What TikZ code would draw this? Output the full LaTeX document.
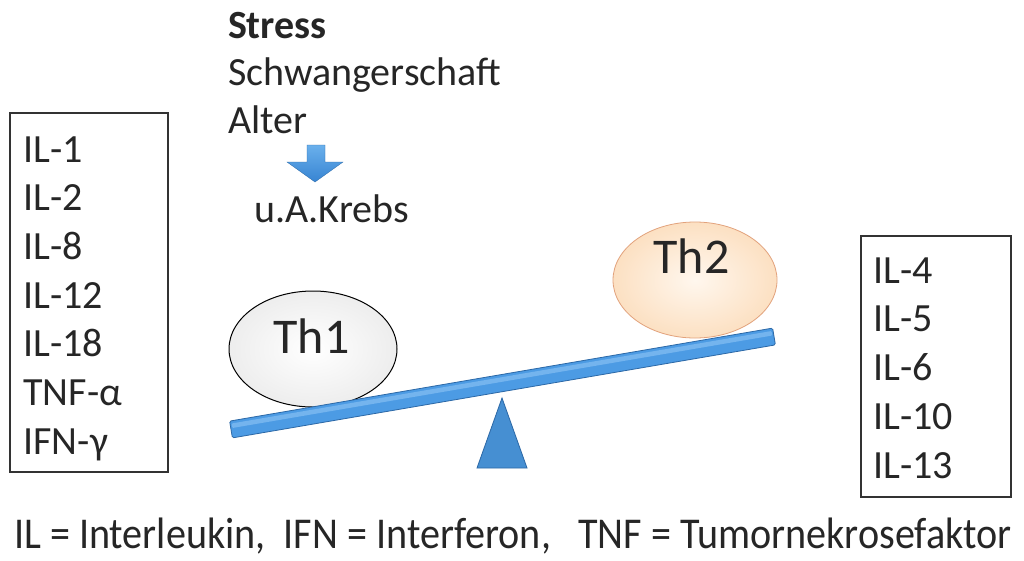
\documentclass[tikz,border=0pt]{standalone}
\usepackage{fontspec}
\usepackage{graphicx}
\setmainfont{Carlito}
\usetikzlibrary{shapes.geometric}
\definecolor{txt}{HTML}{262626}
\definecolor{boxc}{HTML}{333333}
\definecolor{beamc}{HTML}{4C9BE4}
\definecolor{beamlight}{HTML}{74B4EE}
\definecolor{beamdark}{HTML}{2C68A6}
\definecolor{arrtop}{HTML}{6AB0EC}
\definecolor{arrbot}{HTML}{3784D2}
\definecolor{peach}{HTML}{FCE0C2}
\definecolor{peachin}{HTML}{FFF7EE}
\definecolor{peachedge}{HTML}{E2A27C}
\begin{document}
\begin{tikzpicture}[x=1pt,y=-1pt,
  every node/.style={inner sep=0pt, outer sep=0pt, text=txt},
  lbl/.style={anchor=base west, font=\fontsize{40}{48}\selectfont},
  listbox/.style={draw=boxc, line width=1.2pt, anchor=north west, rectangle},
  thlbl/.style={anchor=base, font=\fontsize{50}{60}\selectfont}]
\useasboundingbox (0,0) rectangle (1024,560);
\fill[white] (0,0) rectangle (1024,560);

% left box
\node[listbox, minimum width=158pt, minimum height=359pt] (lbox) at (10,113) {};
\node[lbl] (l1) at (23.5,162) {IL-1};
\node[lbl] (l2) at (23.5,210.7) {IL-2};
\node[lbl] (l3) at (23.5,259.4) {IL-8};
\node[lbl] (l4) at (23.5,308.1) {IL-12};
\node[lbl] (l5) at (23.5,356.8) {IL-18};
\node[lbl] (l6) at (23.5,405.5) {TNF-α};
\node[lbl] (l7) at (23.5,454.2) {IFN-γ};

% right box
\node[listbox, minimum width=150pt, minimum height=261pt] (rbox) at (861,236) {};
\node[lbl] (r1) at (873.5,283) {IL-4};
\node[lbl] (r2) at (873.5,331.75) {IL-5};
\node[lbl] (r3) at (873.5,380.5) {IL-6};
\node[lbl] (r4) at (873.5,429.25) {IL-10};
\node[lbl] (r5) at (873.5,478) {IL-13};

% top texts
\node[lbl, font=\bfseries\fontsize{40}{48}\selectfont] (stress) at (228,38) {Stress};
\node[lbl] (schw) at (228,85) {Schwangerschaft};
\node[lbl] (alter) at (228,133) {Alter};
\node[lbl] (krebs) at (254,222) {u.A.Krebs};

% block arrow
\shade[top color=arrtop, bottom color=arrbot, draw=arrbot!80!black, line width=0.3pt]
  (307,145) -- (325,145) -- (325,162) -- (343,162) -- (315,182) -- (287,162) -- (307,162) -- cycle;

% ellipses
\node[ellipse, minimum width=168pt, minimum height=116pt, draw=black, line width=1pt,
  inner color=white, outer color=black!7] (th1) at (313,349) {};
\node[thlbl] (th1t) at (311.5,353) {Th1};
\node[ellipse, minimum width=164pt, minimum height=116pt, draw=peachedge, line width=0.8pt,
  inner color=peachin, outer color=peach] (th2) at (695,280) {};
\node[thlbl] (th2t) at (691.5,273) {Th2};

% beam
\fill[beamc, draw=beamdark, line width=0.8pt, rounded corners=1.5pt]
  (229.6,421.1) -- (772.6,328.1) -- (775.4,344.9) -- (232.4,437.9) -- cycle;
\fill[beamlight, rounded corners=1pt]
  (231.5,423.5) -- (771.5,331) -- (772.3,335.5) -- (232.3,428) -- cycle;

% fulcrum
\fill[beamc!92!black, draw=beamdark, line width=0.8pt]
  (502,398) -- (527,468) -- (477,468) -- cycle;

% legend
\node[anchor=base west, font=\fontsize{44}{50}\selectfont] (legend) at (14,548)
  {\scalebox{0.912}[1]{IL = Interleukin,\ \ IFN = Interferon,\ \ \ TNF = Tumornekrosefaktor}};
\end{tikzpicture}
\end{document}
